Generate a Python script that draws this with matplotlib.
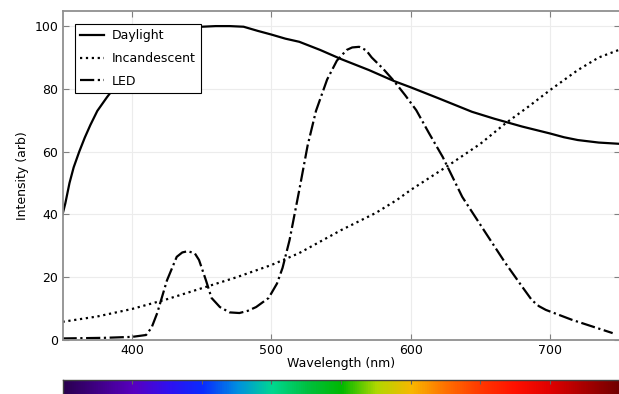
import numpy as np
import matplotlib
matplotlib.use("Agg")
import matplotlib.pyplot as plt
from matplotlib.colors import LinearSegmentedColormap

# spectra
day_wl = [350, 352, 355, 358, 362, 366, 370, 375, 382, 390, 400, 410, 420, 430, 440, 450,
          460, 470, 480, 490, 500, 510, 520, 535, 550, 570, 588, 600, 620, 644, 660,
          680, 700, 710, 720, 735, 750]
day_val = [40, 43.5, 50, 55, 60, 64.5, 68.5, 73, 77.4, 82, 86, 90, 94, 97, 99, 99.8,
           100, 100, 99.8, 98.5, 97.3, 96, 95, 92.4, 89.5, 86, 82.5, 80.5, 77, 72.7, 70.5,
           68, 65.8, 64.6, 63.7, 62.9, 62.5]

inc_wl = [350, 375, 400, 425, 450, 475, 500, 520, 550, 575, 590, 600, 625, 650,
          668, 685, 700, 720, 735, 750]
inc_val = [5.8, 7.5, 9.9, 13, 16.5, 20, 23.9, 27.7, 35, 40.5, 44.6, 47.8, 55, 62.5,
           69, 74.5, 79.6, 86, 90, 92.5]

led_wl = [350, 380, 400, 410, 414, 418, 425, 432, 436, 440, 445, 448, 453, 457, 463, 470,
          477, 483, 489, 498, 504, 508, 513, 520, 526, 532, 540, 547, 554, 558, 563, 568,
          572, 580, 588, 596, 604, 613, 623, 637, 654, 668, 680, 687, 692, 697, 716, 745]
led_val = [0.5, 0.7, 1.0, 1.6, 4, 8.6, 19, 26.5, 27.9, 28.3, 27.6, 25.5, 19, 13.4, 10.5,
           8.8, 8.6, 9.3, 10.5, 13.4, 18, 23, 31.8, 47.8, 62, 73, 83, 89, 92.4, 93.2, 93.4,
           92.3, 90, 86.5, 82.5, 78, 73.2, 66, 58.3, 45.6, 34, 24.5, 17, 12.7, 10.8, 9.6,
           6.4, 2.2]

# colour stops for the spectrum bar
spec_wl = [350, 400, 425, 450, 475, 500, 525, 550, 575, 600, 625, 650, 675, 700, 750]
spec_col = ["#2a0050", "#5800c0", "#3010f0", "#0a2cff", "#0090e0", "#00d890", "#00c040",
            "#00b800", "#b0d800", "#f8b800", "#ff7000", "#ff3800", "#ff1000", "#e00000",
            "#700000"]

fig = plt.figure(figsize=(6.19, 3.94), dpi=100)
ax = fig.add_axes([0.101, 0.137, 0.9, 0.835])

ax.plot(day_wl, day_val, color="black", lw=1.6, ls="-", label="Daylight")
ax.plot(inc_wl, inc_val, color="black", lw=1.6, ls=":", label="Incandescent")
ax.plot(led_wl, led_val, color="black", lw=1.6, ls="-.", label="LED")

ax.set_xlim(350, 750)
ax.set_ylim(0, 104.8)
ax.set_xticks([400, 500, 600, 700])
ax.set_yticks([0, 20, 40, 60, 80, 100])
ax.grid(True, color="#ececec", lw=0.8)
ax.tick_params(direction="in", top=True, right=True, color="#808080", labelsize=9,
               length=4, pad=3)
for s in ax.spines.values():
    s.set_color("#909090")
    s.set_linewidth(1.3)
ax.set_xlabel("Wavelength (nm)", fontsize=9, labelpad=0)
ax.set_ylabel("Intensity (arb)", fontsize=9, labelpad=4)

leg = ax.legend(loc="upper left", bbox_to_anchor=(0.022, 0.962), borderaxespad=0,
                fontsize=9, fancybox=False, edgecolor="black", framealpha=1,
                borderpad=0.45, handlelength=1.9, handletextpad=0.6, labelspacing=0.78)
leg.get_frame().set_linewidth(0.8)

# spectrum strip
cax = fig.add_axes([0.101, -0.03, 0.9, 0.066])
cmap = LinearSegmentedColormap.from_list(
    "spec", [((w - 350) / 400, c) for w, c in zip(spec_wl, spec_col)])
grad = np.linspace(350, 750, 800)[None, :]
cax.imshow(grad, aspect="auto", cmap=cmap, extent=[350, 750, 0, 1])
cax.set_xlim(350, 750)
cax.set_xticks(np.arange(400, 750, 50))
cax.set_yticks([])
cax.tick_params(direction="in", top=True, bottom=False, labelbottom=False,
                color="#606060", length=3)
for s in cax.spines.values():
    s.set_color("#404040")
    s.set_linewidth(1.0)

fig.savefig("out.png", dpi=100)
